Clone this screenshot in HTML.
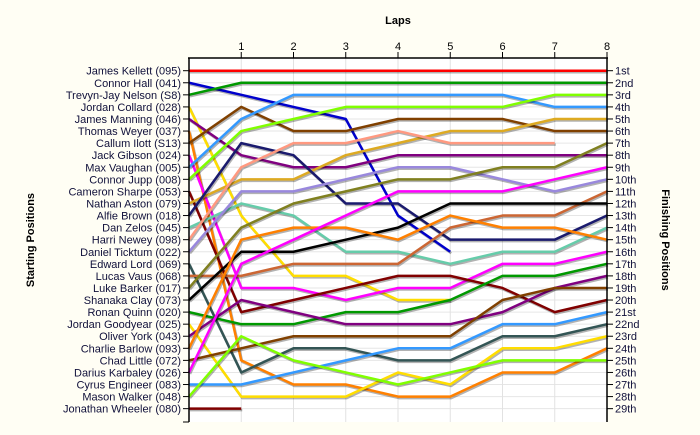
<!DOCTYPE html>
<html><head><meta charset="utf-8"><style>
body{margin:0;background:#fffef4;}
svg{display:block;font-family:"Liberation Sans",sans-serif;}
</style></head><body>
<svg id="chart" width="700" height="435" xmlns="http://www.w3.org/2000/svg">
<rect width="700" height="435" fill="#fffef4"/>
<rect x="189" y="58" width="418" height="364" fill="#ffffff"/>
<g id="grid"></g>
<g id="series"></g>
<g id="axes"></g>
<text x="398" y="24" font-size="11" font-weight="bold" text-anchor="middle" fill="#000">Laps</text>
<text transform="translate(34,240) rotate(-90)" font-size="11" font-weight="bold" text-anchor="middle" fill="#000">Starting Positions</text>
<text transform="translate(662,240) rotate(90)" font-size="11" font-weight="bold" text-anchor="middle" fill="#000">Finishing Positions</text>
</svg>
<script>
const drivers = ["James Kellett (095)","Connor Hall (041)","Trevyn-Jay Nelson (S8)","Jordan Collard (028)","James Manning (046)","Thomas Weyer (037)","Callum Ilott (S13)","Jack Gibson (024)","Max Vaughan (005)","Connor Jupp (008)","Cameron Sharpe (053)","Nathan Aston (079)","Alfie Brown (018)","Dan Zelos (045)","Harri Newey (098)","Daniel Ticktum (022)","Edward Lord (069)","Lucas Vaus (068)","Luke Barker (017)","Shanaka Clay (073)","Ronan Quinn (020)","Jordan Goodyear (025)","Oliver York (043)","Charlie Barlow (093)","Chad Little (072)","Darius Karbaley (026)","Cyrus Engineer (083)","Mason Walker (048)","Jonathan Wheeler (080)"];
const laps = [0,1,2,3,4,5,6,7,8];
const finishLabels = ["1st","2nd","3rd","4th","5th","6th","7th","8th","9th","10th","11th","12th","13th","14th","15th","16th","17th","18th","19th","20th","21st","22nd","23rd","24th","25th","26th","27th","28th","29th"];
const colors = ["#ff0000","#0000cc","#009900","#ffdd00","#800080","#ff8000","#804000","#ff00ff","#3399ff","#80ff00","#800000","#ddaa22","#1a1a6e","#66ccaa","#ff9980","#9988dd","#335555","#cc6633","#808020","#000000","#009900","#ffdd00","#800080","#ff8000","#804000","#ff00ff","#3399ff","#80ff00","#800000"];
const p01 = [1,1,1,1,1,1,1,1,1];
const p02 = [2,3,4,5,13,16];
const p03 = [3,2,2,2,2,2,2,2,2];
const p04 = [4,13,18,18,20,20];
const p05 = [5,8,9,9,8,8,8,8,8];
const p06 = [6,25,27,27,28,28,26,26,24];
const p07 = [7,4,6,6,5,5,5,6,6];
const p08 = [8,19,19,20,19,19,17,17,16];
const p09 = [9,5,3,3,3,3,3,4,4];
const p10 = [10,6,5,4,4,4,4,3,3];
const p11 = [11,21,20,19,18,18,19,21,20];
const p12 = [12,10,10,8,7,6,6,5,5];
const p13 = [13,7,8,12,12,15,15,15,13];
const p14 = [14,12,13,16,16,17,16,16,14];
const p15 = [15,9,7,7,6,7,7,7];
const p16 = [16,11,11,10,9,9,10,11,10];
const p17 = [17,26,24,24,25,25,23,23,22];
const p18 = [18,18,17,17,17,14,13,13,11];
const p19 = [19,14,12,11,10,10,9,9,7];
const p20 = [20,16,16,15,14,12,12,12,12];
const p21 = [21,22,22,21,21,20,18,18,17];
const p22 = [22,28,28,28,26,27,24,24,23];
const p23 = [23,20,21,22,22,22,21,19,18];
const p24 = [24,15,14,14,15,13,14,14,15];
const p25 = [25,24,23,23,23,23,20,19,19];
const p26 = [26,17,15,13,11,11,11,10,9];
const p27 = [27,27,26,25,24,24,22,22,21];
const p28 = [28,23,25,26,27,26,25,25,25];
const p29 = [29,29];
const positions = [p01,p02,p03,p04,p05,p06,p07,p08,p09,p10,p11,p12,p13,p14,p15,p16,p17,p18,p19,p20,p21,p22,p23,p24,p25,p26,p27,p28,p29];

const NS="http://www.w3.org/2000/svg";
const X0=189, X1=607, Y0=70.7, DY=12.07;
function xScale(l){return X0+(X1-X0)*l/8;}
function yScale(p){return Y0+(p-1)*DY;}
function mk(tag,attrs,parent){const e=document.createElementNS(NS,tag);for(const k in attrs)e.setAttribute(k,attrs[k]);parent.appendChild(e);return e;}
const grid=document.getElementById('grid'), ser=document.getElementById('series'), ax=document.getElementById('axes');

finishLabels.forEach((lab,i)=>{
  const y=yScale(i+1);
  const g=mk('line',{x1:X0,x2:X1,y1:y,y2:y,stroke:'#e6e6e6','stroke-width':1},grid);
  
  
});
laps.forEach(l=>{
  if(l===0)return;
  const x=xScale(l);
  const g=mk('line',{x1:x,x2:x,y1:58,y2:422,stroke:'#e2e2e2','stroke-width':1},grid);
  
  
  const t=mk('line',{x1:x,x2:x,y1:52,y2:58,stroke:'#000'},ax);
  
  
  const tx=mk('text',{x:x,y:50,'font-size':11,'text-anchor':'middle',fill:'#000'},ax);
  tx.textContent=l;
  
  
});

positions.forEach((arr,i)=>{
  const pts=arr.map((p,l)=>xScale(l)+','+yScale(p)).join(' ');
  const sh=mk('polyline',{points:arr.map((p,l)=>(xScale(l)+1)+','+(yScale(p)+1.5)).join(' '),fill:'none',stroke:'rgba(0,0,0,0.3)','stroke-width':2.5,'stroke-linejoin':'round'},ser);
  
  
  const pl=mk('polyline',{points:pts,fill:'none',stroke:colors[i],'stroke-width':2.5,'stroke-linejoin':'round'},ser);
  
  
});

const la=mk('line',{x1:X0,x2:X0,y1:58,y2:422,stroke:'#000','stroke-width':1.5},ax);


const ra=mk('line',{x1:X1,x2:X1,y1:58,y2:422,stroke:'#000','stroke-width':1.5},ax);


const ta=mk('line',{x1:X0-1,x2:X1+1,y1:58,y2:58,stroke:'#000','stroke-width':1.5},ax);


const bt=mk('line',{x1:X0-6,x2:X0,y1:422,y2:422,stroke:'#000'},ax);



drivers.forEach((d,i)=>{
  const y=yScale(i+1);
  const t=mk('line',{x1:X0-6,x2:X0,y1:y,y2:y,stroke:'#000'},ax);
  
  
  const tx=mk('text',{x:X0-8,y:y+4,'font-size':11,'text-anchor':'end',fill:'#10103a'},ax);
  tx.textContent=d;
  
  
});
finishLabels.forEach((f,i)=>{
  const y=yScale(i+1);
  const t=mk('line',{x1:X1,x2:X1+6,y1:y,y2:y,stroke:'#000'},ax);
  
  
  const tx=mk('text',{x:X1+8,y:y+4,'font-size':11,fill:'#10103a'},ax);
  tx.textContent=f;
  
  
});
</script>
</body></html>
